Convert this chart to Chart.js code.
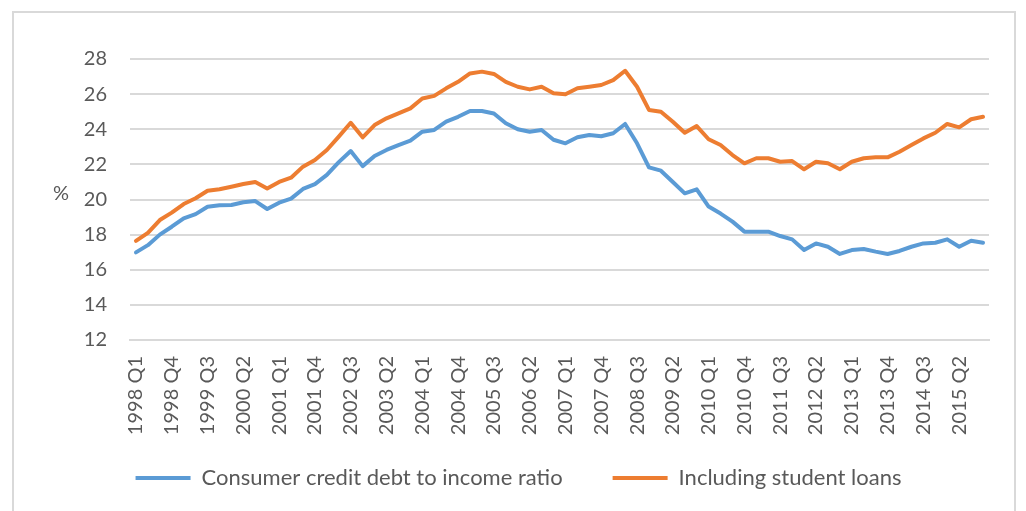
<!DOCTYPE html>
<html>
<head>
<meta charset="utf-8">
<script src="https://cdn.jsdelivr.net/npm/chart.js@4.4.1/dist/chart.umd.min.js"></script>
<style>
  html, body { margin: 0; padding: 0; background: #ffffff; overflow: hidden; }
  #wrap { position: relative; width: 1026px; height: 511px; }
  #frame { position: absolute; left: 12px; top: 11px; width: 1004px; height: 600px; border: 2px solid #d9d9d9; box-sizing: border-box; pointer-events: none; }
  canvas { position: absolute; left: 0; top: 0; }
</style>
</head>
<body>
<div id="wrap">
  <canvas id="c" width="1026" height="511"></canvas>
  <div id="frame"></div>
</div>
<script>
const categories = [
  "1998 Q1","1998 Q2","1998 Q3","1998 Q4",
  "1999 Q1","1999 Q2","1999 Q3","1999 Q4",
  "2000 Q1","2000 Q2","2000 Q3","2000 Q4",
  "2001 Q1","2001 Q2","2001 Q3","2001 Q4",
  "2002 Q1","2002 Q2","2002 Q3","2002 Q4",
  "2003 Q1","2003 Q2","2003 Q3","2003 Q4",
  "2004 Q1","2004 Q2","2004 Q3","2004 Q4",
  "2005 Q1","2005 Q2","2005 Q3","2005 Q4",
  "2006 Q1","2006 Q2","2006 Q3","2006 Q4",
  "2007 Q1","2007 Q2","2007 Q3","2007 Q4",
  "2008 Q1","2008 Q2","2008 Q3","2008 Q4",
  "2009 Q1","2009 Q2","2009 Q3","2009 Q4",
  "2010 Q1","2010 Q2","2010 Q3","2010 Q4",
  "2011 Q1","2011 Q2","2011 Q3","2011 Q4",
  "2012 Q1","2012 Q2","2012 Q3","2012 Q4",
  "2013 Q1","2013 Q2","2013 Q3","2013 Q4",
  "2014 Q1","2014 Q2","2014 Q3","2014 Q4",
  "2015 Q1","2015 Q2","2015 Q3","2015 Q4"
];

const consumerCredit = [
  16.99, 17.40, 18.00, 18.45, 18.93, 19.17, 19.59, 19.67, 19.69, 19.84, 19.91, 19.46,
  19.82, 20.05, 20.60, 20.88, 21.40, 22.13, 22.76, 21.90, 22.48, 22.82, 23.10, 23.35,
  23.86, 23.96, 24.43, 24.71, 25.04, 25.04, 24.90, 24.34, 24.00, 23.86, 23.96, 23.40,
  23.20, 23.54, 23.67, 23.60, 23.77, 24.30, 23.20, 21.83, 21.64, 21.00, 20.35, 20.58,
  19.60, 19.20, 18.74, 18.17, 18.17, 18.17, 17.92, 17.73, 17.12, 17.50, 17.31, 16.90,
  17.12, 17.18, 17.03, 16.90, 17.07, 17.31, 17.50, 17.54, 17.73, 17.31, 17.65, 17.54
];

const withStudentLoans = [
  17.64, 18.10, 18.83, 19.25, 19.74, 20.07, 20.50, 20.58, 20.73, 20.88, 21.00, 20.63,
  21.00, 21.24, 21.87, 22.25, 22.82, 23.58, 24.37, 23.54, 24.24, 24.62, 24.90, 25.19,
  25.75, 25.90, 26.33, 26.70, 27.18, 27.28, 27.15, 26.70, 26.42, 26.27, 26.42, 26.05,
  25.99, 26.33, 26.42, 26.52, 26.80, 27.33, 26.42, 25.10, 25.00, 24.43, 23.80, 24.18,
  23.43, 23.10, 22.53, 22.06, 22.35, 22.35, 22.15, 22.19, 21.72, 22.15, 22.06, 21.72,
  22.15, 22.35, 22.40, 22.40, 22.72, 23.10, 23.48, 23.80, 24.30, 24.11, 24.57, 24.71
];

const seriesNames = ["Consumer credit debt to income ratio", "Including student loans"];
const yTicks = { min: 12, max: 28, step: 2 };
const yAxisLabel = "%";
const labelEvery = 3;

const FONT = "Lato, 'Liberation Sans', sans-serif";
const TEXT = "#595959";

const pctLabel = {
  id: 'pctLabel',
  afterDraw(chart) {
    const ctx = chart.ctx;
    const y = chart.scales.y;
    ctx.save();
    ctx.font = "20px " + FONT;
    ctx.fillStyle = TEXT;
    ctx.textAlign = 'center';
    ctx.textBaseline = 'middle';
    ctx.fillText(yAxisLabel, 61, y.getPixelForValue(20) - 6);
    ctx.restore();
  }
};

// compact legend height in the layout, then place its row just under the axis labels
const legendFix = {
  id: 'legendFix',
  beforeLayout(chart) {
    const lg = chart.legend;
    if (lg && !lg._patched) {
      const orig = lg.fit.bind(lg);
      lg.fit = function () { orig(); this.height = 44; };
      lg._patched = true;
    }
  },
  afterLayout(chart) {
    const lg = chart.legend;
    if (!lg) return;
    lg.top = chart.chartArea.bottom + 77;
    lg.bottom = lg.top + 85;
    lg.height = 85;
  }
};

new Chart(document.getElementById('c'), {
  type: 'line',
  data: {
    labels: categories,
    datasets: [
      { label: seriesNames[0], data: consumerCredit, borderColor: '#5b9bd5', backgroundColor: '#5b9bd5',
        borderWidth: 4, pointRadius: 0, tension: 0, borderJoinStyle: 'round', borderCapStyle: 'round' },
      { label: seriesNames[1], data: withStudentLoans, borderColor: '#ed7d31', backgroundColor: '#ed7d31',
        borderWidth: 4, pointRadius: 0, tension: 0, borderJoinStyle: 'round', borderCapStyle: 'round' }
    ]
  },
  options: {
    responsive: false,
    animation: false,
    devicePixelRatio: 1,
    layout: { padding: { left: 48, right: 37, top: 59, bottom: 30 } },
    plugins: {
      tooltip: { enabled: false },
      legend: {
        position: 'bottom',
        labels: {
          usePointStyle: true,
          pointStyle: 'line',
          pointStyleWidth: 55,
          boxWidth: 55,
          boxHeight: 4,
          padding: 50,
          color: TEXT,
          font: { family: FONT, size: 22 }
        }
      }
    },
    scales: {
      x: {
        offset: true,
        grid: { display: false, drawTicks: false },
        border: { display: true, color: '#d9d9d9', width: 2 },
        ticks: {
          autoSkip: false,
          minRotation: 90,
          maxRotation: 90,
          padding: 16,
          color: TEXT,
          font: { family: FONT, size: 20 },
          callback: function(v, i) { return i % labelEvery === 0 ? categories[i] : ''; }
        },
        afterFit(scale) { scale.height = 97; }
      },
      y: {
        min: yTicks.min,
        max: yTicks.max,
        grid: { color: '#d9d9d9', lineWidth: 2, drawTicks: false },
        border: { display: false },
        ticks: {
          stepSize: yTicks.step,
          padding: 23,
          color: TEXT,
          font: { family: FONT, size: 20 }
        },
        afterFit(scale) { scale.width = 82; }
      }
    }
  },
  plugins: [legendFix, pctLabel]
});
</script>
</body>
</html>
